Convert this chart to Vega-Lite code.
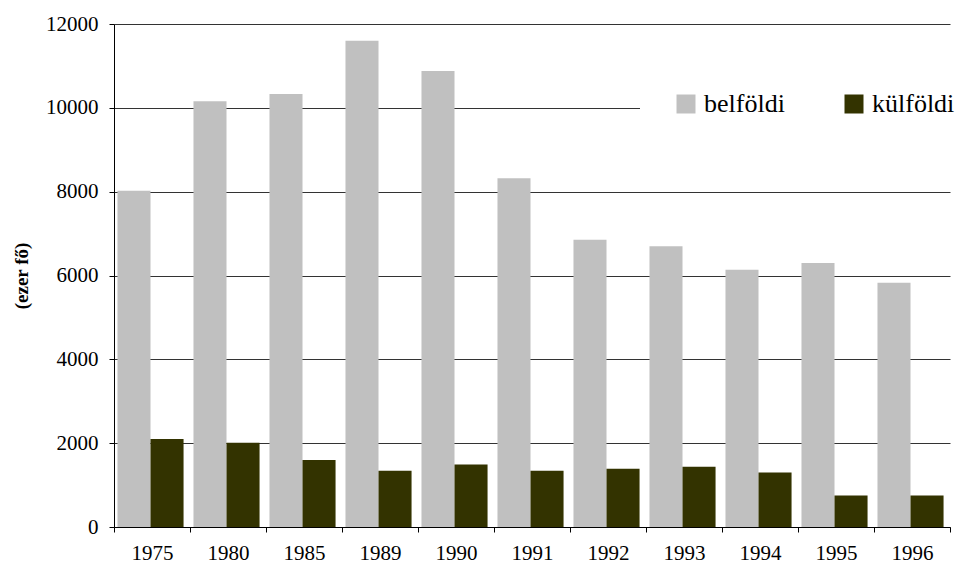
{
  "$schema": "https://vega.github.io/schema/vega-lite/v6.json",
  "width": 836,
  "height": 503,
  "autosize": "none",
  "padding": {"left": 114, "top": 24, "right": 14, "bottom": 42},
  "background": "white",
  "config": {
    "font": "Times New Roman, Liberation Serif, serif",
    "view": {"stroke": null}
  },
  "data": {
    "values": [
      {"year": "1975", "type": "belföldi", "value": 8020},
      {"year": "1975", "type": "külföldi", "value": 2100},
      {"year": "1980", "type": "belföldi", "value": 10160},
      {"year": "1980", "type": "külföldi", "value": 2010},
      {"year": "1985", "type": "belföldi", "value": 10330},
      {"year": "1985", "type": "külföldi", "value": 1600},
      {"year": "1989", "type": "belföldi", "value": 11600},
      {"year": "1989", "type": "külföldi", "value": 1340},
      {"year": "1990", "type": "belföldi", "value": 10880},
      {"year": "1990", "type": "külföldi", "value": 1490},
      {"year": "1991", "type": "belföldi", "value": 8320},
      {"year": "1991", "type": "külföldi", "value": 1340},
      {"year": "1992", "type": "belföldi", "value": 6850},
      {"year": "1992", "type": "külföldi", "value": 1390},
      {"year": "1993", "type": "belföldi", "value": 6700},
      {"year": "1993", "type": "külföldi", "value": 1440},
      {"year": "1994", "type": "belföldi", "value": 6140},
      {"year": "1994", "type": "külföldi", "value": 1300},
      {"year": "1995", "type": "belföldi", "value": 6300},
      {"year": "1995", "type": "külföldi", "value": 750},
      {"year": "1996", "type": "belföldi", "value": 5830},
      {"year": "1996", "type": "külföldi", "value": 750}
    ]
  },
  "mark": {"type": "bar"},
  "encoding": {
    "x": {
      "field": "year",
      "type": "nominal",
      "scale": {"paddingInner": 0, "paddingOuter": 0},
      "axis": {
        "title": null,
        "labelAngle": 0,
        "labelFont": "Times New Roman, Liberation Serif, serif",
        "labelFontSize": 21,
        "labelColor": "black",
        "labelPadding": 10,
        "tickBand": "extent",
        "tickSize": 5,
        "tickColor": "black",
        "domainColor": "black",
        "grid": false
      }
    },
    "xOffset": {
      "field": "type",
      "sort": ["belföldi", "külföldi"],
      "scale": {"paddingInner": 0, "paddingOuter": 0.15, "align": 0.35}
    },
    "y": {
      "field": "value",
      "type": "quantitative",
      "scale": {"domain": [0, 12000], "nice": false},
      "axis": {
        "title": "(ezer fő)",
        "titleFont": "Times New Roman, Liberation Serif, serif",
        "titleFontWeight": "bold",
        "titleFontSize": 19,
        "titleColor": "black",
        "titleAngle": -90,
        "titleAlign": "center",
        "titleBaseline": "bottom",
        "titleX": -83,
        "titleY": 251.5,
        "values": [0, 2000, 4000, 6000, 8000, 10000, 12000],
        "format": "d",
        "labelFont": "Times New Roman, Liberation Serif, serif",
        "labelFontSize": 21,
        "labelColor": "black",
        "labelPadding": 11,
        "tickSize": 5,
        "tickColor": "black",
        "domainColor": "black",
        "grid": true,
        "gridColor": "#333333",
        "gridWidth": 1
      }
    },
    "color": {
      "field": "type",
      "type": "nominal",
      "scale": {"domain": ["belföldi", "külföldi"], "range": ["#C0C0C0", "#333300"]},
      "legend": {
        "title": null,
        "orient": "none",
        "legendX": 526,
        "legendY": 34,
        "direction": "horizontal",
        "columns": 2,
        "columnPadding": 56,
        "padding": 33,
        "fillColor": "white",
        "symbolType": "square",
        "symbolSize": 361,
        "symbolStrokeWidth": 0,
        "symbolOpacity": 1,
        "labelFontSize": 26,
        "labelColor": "black",
        "labelOffset": 5,
        "labelFont": "Times New Roman, Liberation Serif, serif"
      }
    }
  }
}
